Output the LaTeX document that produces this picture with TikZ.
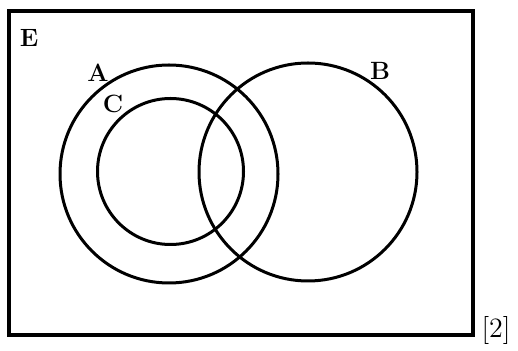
\documentclass[tikz,border=0pt]{standalone}
\usetikzlibrary{positioning}

\begin{document}
\begin{tikzpicture}[x=0.5pt, y=-0.5pt,
    every node/.style={font=\fontsize{12.5}{14}\selectfont},
    setline/.style={line width=1.5pt},
    setname/.style={font=\fontsize{12.5}{14}\selectfont\bfseries}]
			\useasboundingbox (0,0) rectangle (518,351);
			
			% Universal set
			\draw[line width=1.7pt] (9,11) rectangle (473,335);
			\node[setname] (labE) at (29,38) {E};
			
			% Sets A, C and B
			\draw[setline] (169,174) circle[radius=109];
			\draw[setline] (170.5,171.5) circle[radius=73];
			\draw[setline] (308,172) circle[radius=109];
			
			% Set names
			\node[setname] (labA) at (98,73) {A};
			\node[setname] (labC) at (113,104) {C};
			\node[setname] (labB) at (380,71) {B};
			
			% Marks
			\node[font=\fontsize{14}{16}\selectfont] (marks) at (496,330) {[2]};
		\end{tikzpicture}
\end{document}
